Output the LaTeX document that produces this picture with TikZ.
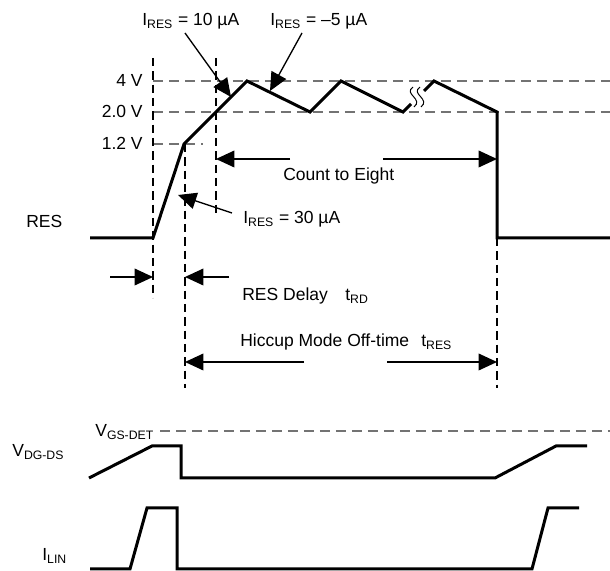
\documentclass[tikz,border=0pt]{standalone}
\usepackage{fontspec}
\setmainfont{Liberation Sans}
\usetikzlibrary{arrows.meta}

\begin{document}
\begin{tikzpicture}[x=0.6pt, y=-0.6pt,
sig/.style={black, line width=1.8pt},
guide/.style={black, line width=0.9pt, dash pattern=on 5pt off 3pt},
level/.style={black!55, line width=0.9pt, dash pattern=on 6pt off 3.6pt},
dim/.style={black, line width=0.8pt, -{Triangle[length=11pt, width=10pt]}},
lbl/.style={anchor=base west, inner sep=0pt, font=\fontsize{10.5}{12.5}\selectfont},
lvl/.style={lbl, anchor=base east},
]
\useasboundingbox (0,0) rectangle (610,571);

%Level lines
\draw[level] (153, 81) -- (610, 81);
\draw[level] (153,112) -- (610,112);
\draw[level] (153,144) -- (203,144);
\node[lvl] (v4)  at (143, 87) {4 V};
\node[lvl] (v20) at (143,118) {2.0 V};
\node[lvl] (v12) at (143,150) {1.2 V};

%Time markers
\draw[guide] (153, 58) -- (153,298);
\draw[guide] (185,144) -- (185,388);
\draw[guide] (216, 58) -- (216,213);
\draw[guide] (497,238) -- (497,388);

%RES waveform
\node[lbl] (res) at (26,228) {RES};
\draw[sig] (90,238) -- (153,238) -- (184,144) -- (247,81) -- (310,112)
  -- (341,81) -- (403,112) -- (411,104);
\draw[sig] (424,91) -- (434,81) -- (497,112) -- (497,238) -- (610,238);

%Break mark
\draw[black, line width=0.6pt] (413,87) .. controls (403,94) and (424,99) .. (414,107);
\draw[black, line width=0.6pt] (420,87) .. controls (410,94) and (431,99) .. (421,107);

%Current labels
\node[lbl] (ires10) at (142,26) {I\textsubscript{RES} = 10 µA};
\node[lbl] (ires5)  at (270,26) {I\textsubscript{RES} = –5 µA};
\node[lbl] (ires30) at (243,224) {I\textsubscript{RES} = 30 µA};
\draw[dim] (185,33) -- (231,97);
\draw[dim] (302,33) -- (270,91);
\draw[dim] (232,213) -- (178,195);

%Count to Eight
\node[lbl] (count) at (283,181) {Count to Eight};
\draw[dim] (290,159) -- (216,159);
\draw[dim] (383,159) -- (497,159);

%RES Delay
\draw[dim] (110,277) -- (153,277);
\draw[dim] (229,277) -- (185,277);
\node[lbl] (delay) at (242,301) {RES Delay};
\node[lbl] (trd)   at (345,301) {t\textsubscript{RD}};

%Hiccup Mode Off-time
\node[lbl] (hiccup) at (240,347) {Hiccup Mode Off-time};
\node[lbl] (tres)   at (421,347) {t\textsubscript{RES}};
\draw[dim] (304,362) -- (185,362);
\draw[dim] (387,362) -- (497,362);

%VDG-DS
\draw[level] (160,431) -- (610,431);
\node[lbl] (vgs) at (95,437) {V\textsubscript{GS-DET}};
\node[lbl] (vdg) at (12,457) {V\textsubscript{DG-DS}};
\draw[sig] (89,478) -- (152,446) -- (181,446) -- (181,478) -- (495,478)
  -- (556,446) -- (587,446);

%ILIN
\node[lbl] (ilin) at (42,561) {I\textsubscript{LIN}};
\draw[sig] (90,569) -- (130,569) -- (147,508) -- (177,508) -- (177,569)
  -- (532,569) -- (548,508) -- (579,508);
\end{tikzpicture}
\end{document}
